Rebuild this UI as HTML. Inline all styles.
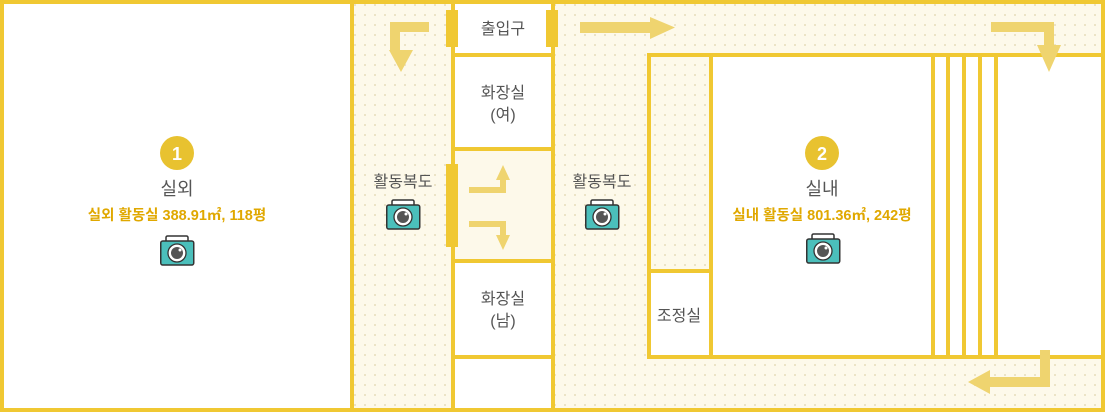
<!DOCTYPE html>
<html><head><meta charset="utf-8"><style>
body{margin:0;width:1105px;height:412px;overflow:hidden;background:#fff}
svg text{font-family:"Liberation Sans","Noto Sans CJK KR",sans-serif;text-anchor:middle}
</style></head><body>
<svg width="1105" height="412" viewBox="0 0 1105 412" xmlns="http://www.w3.org/2000/svg">
<defs>
<pattern id="dots" width="10" height="10" patternUnits="userSpaceOnUse">
<rect width="10" height="10" fill="#fdf9ea"/><rect x="4" y="4" width="2" height="2" fill="#ebe3c6"/>
</pattern>
<g id="cam">
<rect x="6" y="0" width="22" height="7" rx="1.5" fill="#fff" stroke="#333" stroke-width="1.5"/>
<rect x="0.75" y="5" width="33" height="24" rx="2" fill="#4bbfbb" stroke="#333" stroke-width="1.5"/>
<circle cx="17" cy="17" r="9" fill="#fff" stroke="#333" stroke-width="1.3"/>
<circle cx="17" cy="17" r="6" fill="#555"/>
<circle cx="20" cy="14" r="1.5" fill="#fff"/>
</g>
</defs>
<rect x="354" y="0" width="751" height="412" fill="url(#dots)"/>
<rect x="455" y="0" width="97" height="412" fill="#fff"/>
<rect x="455" y="151" width="97" height="110" fill="#fdf9ea"/>
<rect x="650" y="56" width="453" height="301" fill="#fff"/>
<rect x="650" y="56" width="61" height="215" fill="url(#dots)"/>
<g fill="#f0c832">
<rect x="0" y="0" width="1105" height="4"/>
<rect x="0" y="408" width="1105" height="4"/>
<rect x="0" y="0" width="4" height="412"/>
<rect x="1101" y="0" width="4" height="412"/>
<rect x="350" y="0" width="4" height="412"/>
<rect x="451" y="0" width="4" height="412"/>
<rect x="551" y="0" width="4" height="412"/>
<rect x="455" y="53" width="96" height="4"/>
<rect x="455" y="147" width="96" height="4"/>
<rect x="455" y="259" width="96" height="4"/>
<rect x="455" y="355" width="96" height="4"/>
<rect x="647" y="53" width="458" height="4"/>
<rect x="647" y="355" width="458" height="4"/>
<rect x="647" y="53" width="4" height="306"/>
<rect x="709" y="53" width="4" height="306"/>
<rect x="647" y="269" width="64" height="4"/>
<rect x="931" y="53" width="4" height="306"/>
<rect x="946" y="53" width="4" height="306"/>
<rect x="962" y="53" width="4" height="306"/>
<rect x="978" y="53" width="4" height="306"/>
<rect x="994" y="53" width="4" height="306"/>
<rect x="446" y="10" width="12" height="37"/>
<rect x="546" y="10" width="12" height="37"/>
<rect x="446" y="164" width="12" height="83"/>
</g>
<g fill="#efd46f">
<path d="M429 22 H390 V50 H390 L389 50 L401 72 L413 50 H400 V32 H429 Z"/>
<path d="M580 22 H650 V17 L675 27.5 L650 39 V33 H580 Z"/>
<path d="M991 22 H1054 V45 H1061 L1049 72 L1037 45 H1044 V32 H991 Z"/>
<path d="M1040 350 H1050 V387 H990 V394 L968 382 L990 370 V377 H1040 Z"/>
<path d="M469 187 H500 V180 H496 L503 165 L510 180 H506 V193 H469 Z"/>
<path d="M469 221 H506 V235 H510 L503 250 L496 235 H500 V227 H469 Z"/>
</g>
<g fill="#555" font-size="16">
<text x="503" y="34">출입구</text>
<text x="503" y="98">화장실</text>
<text x="503" y="120">(여)</text>
<text x="503" y="304">화장실</text>
<text x="503" y="326">(남)</text>
<text x="403" y="187">활동복도</text>
<text x="602" y="187">활동복도</text>
<text x="679" y="321">조정실</text>
<text x="177" y="195" font-size="18">실외</text>
<text x="822" y="195" font-size="18">실내</text>
</g>
<circle cx="177" cy="153" r="17" fill="#e8c230"/>
<circle cx="822" cy="153" r="17" fill="#e8c230"/>
<g fill="#fff" font-size="18" font-weight="bold">
<text x="177" y="160">1</text><text x="822" y="160">2</text>
</g>
<g fill="#e0a800" font-size="14.5" font-weight="bold">
<text x="177" y="220">실외 활동실 388.91㎡, 118평</text>
<text x="822" y="220">실내 활동실 801.36㎡, 242평</text>
</g>
<use href="#cam" x="160" y="236"/>
<use href="#cam" x="386" y="200"/>
<use href="#cam" x="585" y="200"/>
<use href="#cam" x="806" y="234"/>
</svg>
</body></html>
